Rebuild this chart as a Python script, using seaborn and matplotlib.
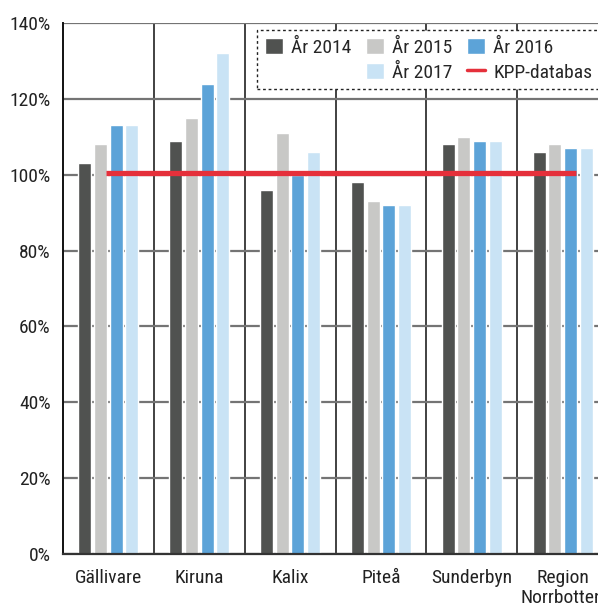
import matplotlib
matplotlib.use("Agg")
import matplotlib.pyplot as plt
from matplotlib import font_manager
from matplotlib.patches import Patch
from matplotlib.lines import Line2D
from matplotlib.ticker import FixedLocator
import seaborn as sns
import pandas as pd

# Data
sjukhus = ["Gällivare", "Kiruna", "Kalix", "Piteå", "Sunderbyn", "Region\nNorrbotten"]
ar = ["År 2014", "År 2015", "År 2016", "År 2017"]
andel_2014 = [103, 109, 96, 98, 108, 106]
andel_2015 = [108, 115, 111, 93, 110, 108]
andel_2016 = [113, 124, 100, 92, 109, 107]
andel_2017 = [113, 132, 106, 92, 109, 107]
kpp_databas = 100.5
yticks = [0, 20, 40, 60, 80, 100, 120, 140]

farger = ["#505250", "#c8c8c6", "#5ca3d8", "#c9e3f5"]
kpp_farg = "#e5303b"

rows = []
for namn, serie in zip(ar, [andel_2014, andel_2015, andel_2016, andel_2017]):
    for s, v in zip(sjukhus, serie):
        rows.append({"sjukhus": s, "år": namn, "andel": v})
df = pd.DataFrame(rows)

sns.set_theme(style="white")
available = {f.name for f in font_manager.fontManager.ttflist}
kandidater = ["Liberation Sans Narrow", "Roboto Condensed", "Archivo Narrow",
              "PT Sans Narrow", "Encode Sans Condensed", "IBM Plex Sans Condensed",
              "Open Sans Condensed", "Liberation Sans"]
valt = next((k for k in kandidater if k in available), "DejaVu Sans")
plt.rcParams["font.family"] = [valt, "DejaVu Sans"]

fig = plt.figure(figsize=(5.98, 6.10), dpi=100)
ax = fig.add_axes([63 / 598, 56 / 610, 545 / 598, 531 / 610])

sns.barplot(data=df, x="sjukhus", y="andel", hue="år", palette=farger,
            width=0.69, gap=0.17, saturation=1, legend=False, ax=ax, zorder=2)

# KPP reference line across the hospitals
ax.hlines(kpp_databas, -0.03, len(sjukhus) - 1 + 0.145, color=kpp_farg,
          linewidth=3.8, zorder=5)

ax.set_ylim(0, 140)
ax.set_xlim(-0.5, len(sjukhus) - 0.5)
ax.set_yticks(yticks)
ax.set_yticklabels([f"{t}%" for t in yticks])
ax.set_xlabel("")
ax.set_ylabel("")

ax.set_axisbelow(True)
ax.yaxis.grid(True, color="#747474", linewidth=1.6)
ax.xaxis.set_minor_locator(FixedLocator([i + 0.5 for i in range(len(sjukhus) - 1)]))
ax.xaxis.grid(True, which="minor", color="#333333", linewidth=1.3)
ax.xaxis.grid(False, which="major")

ax.tick_params(axis="both", which="both", length=0, labelsize=14, colors="#222222")
ax.tick_params(axis="y", pad=9)
ax.tick_params(axis="x", pad=11)
for lbl in ax.get_xticklabels():
    lbl.set_linespacing(1.1)

for side in ["top", "right"]:
    ax.spines[side].set_visible(False)
ax.spines["left"].set_color("#111111")
ax.spines["left"].set_linewidth(1.4)
ax.spines["bottom"].set_color("#333333")
ax.spines["bottom"].set_linewidth(1.6)

# Legend laid out in three columns with an empty slot under År 2014
tom = Patch(facecolor="none", edgecolor="none", label=" ")
handles = [
    Patch(facecolor=farger[0], label=ar[0]), tom,
    Patch(facecolor=farger[1], label=ar[1]), Patch(facecolor=farger[3], label=ar[3]),
    Patch(facecolor=farger[2], label=ar[2]), Line2D([], [], color=kpp_farg, linewidth=2.5, label="KPP-databas"),
]
leg = fig.legend(handles=handles, ncol=3, loc="upper left",
                 bbox_to_anchor=(257 / 598, 1 - 30 / 610), frameon=True,
                 fancybox=False, fontsize=14, handlelength=0.93, handleheight=0.93,
                 handletextpad=0.42, columnspacing=0.75, labelspacing=0.3,
                 borderpad=0.4, borderaxespad=0)
frame = leg.get_frame()
frame.set_edgecolor("#222222")
frame.set_linewidth(1.0)
frame.set_linestyle((0, (2, 2)))
frame.set_facecolor("white")
frame.set_alpha(1)

fig.savefig("out.png", dpi=100)
